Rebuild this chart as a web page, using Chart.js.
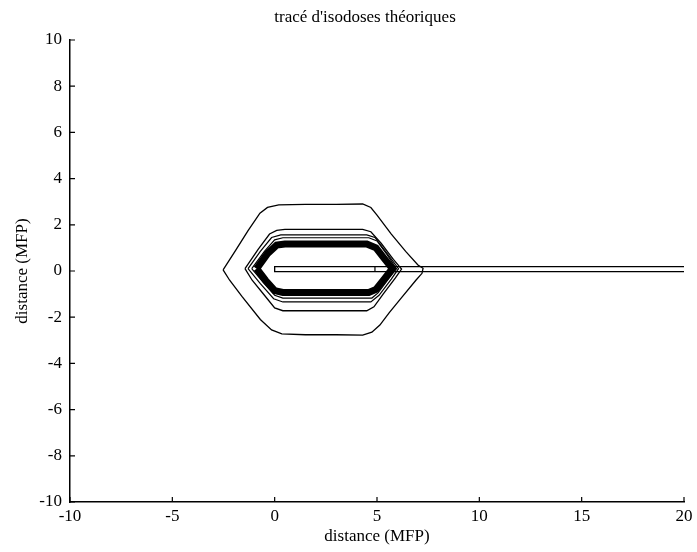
<!DOCTYPE html>
<html><head><meta charset="utf-8">
<script src="https://cdn.jsdelivr.net/npm/chart.js@4/dist/chart.umd.min.js"></script>
<style>html,body{margin:0;padding:0;background:#fff}#wrap{width:697px;height:552px}</style>
</head><body><div id="wrap"><canvas id="c" width="697" height="552"></canvas></div>
<script>
const titleText = "tracé d'isodoses théoriques";
const xTitle = "distance (MFP)";
const yTitle = "distance (MFP)";
const xTicks = [-10, -5, 0, 5, 10, 15, 20];
const yTicks = [-10, -8, -6, -4, -2, 0, 2, 4, 6, 8, 10];

// isodose contours (x, y)
const contourOuter = [[-2.52,0.05],[-1.9,0.9],[-1.3,1.75],[-0.72,2.5],[-0.35,2.75],[0.2,2.86],[1.5,2.88],[3.0,2.88],[4.3,2.9],[4.7,2.75],[5.0,2.42],[5.7,1.6],[6.4,0.85],[7.0,0.26],[7.25,0.12],[7.2,-0.1],[6.9,-0.4],[6.2,-1.15],[5.6,-1.8],[5.14,-2.34],[4.75,-2.65],[4.3,-2.78],[3.0,-2.76],[1.5,-2.76],[0.35,-2.72],[-0.15,-2.55],[-0.7,-2.1],[-1.6,-1.1],[-2.2,-0.4],[-2.52,0.05]];
const contour2 = [[-1.45,0.1],[-0.8,0.95],[-0.25,1.6],[0.1,1.76],[0.5,1.8],[2.5,1.8],[4.3,1.8],[4.7,1.7],[5.2,1.2],[5.8,0.5],[6.2,0.08],[5.9,-0.3],[5.3,-1.0],[4.85,-1.55],[4.5,-1.72],[2.5,-1.72],[0.4,-1.72],[0.0,-1.6],[-0.5,-1.05],[-1.1,-0.4],[-1.45,0.1]];
const contour3 = [[-1.3,0.1],[-0.7,0.85],[-0.15,1.45],[0.3,1.56],[2.5,1.56],[4.5,1.56],[4.9,1.45],[5.5,0.75],[6.05,0.1],[5.7,-0.35],[5.1,-1.05],[4.7,-1.34],[2.5,-1.34],[0.4,-1.34],[-0.05,-1.2],[-0.7,-0.55],[-1.3,0.1]];
const contour4 = [[-1.12,0.1],[-0.5,0.85],[0.0,1.35],[0.4,1.44],[2.5,1.44],[4.6,1.44],[5.0,1.3],[5.5,0.7],[5.95,0.1],[5.6,-0.3],[5.05,-0.95],[4.75,-1.17],[2.5,-1.17],[0.4,-1.17],[0.0,-1.05],[-0.55,-0.5],[-1.12,0.1]];
const contourBand = [[-0.88,0.1],[-0.35,0.75],[0.1,1.12],[0.5,1.17],[2.5,1.17],[4.5,1.17],[4.95,1.0],[5.35,0.55],[5.75,0.1],[5.4,-0.3],[4.95,-0.8],[4.6,-0.93],[2.5,-0.93],[0.4,-0.93],[0.0,-0.85],[-0.45,-0.4],[-0.88,0.1]];
const rayOutline = [[20,0.19],[0,0.19],[0,-0.03],[20,-0.03]];
const rayMark = [[4.9,0.19],[4.9,-0.03]];

const toPts = a => a.map(p => ({x: p[0], y: p[1]}));
const mk = (arr, w) => ({data: toPts(arr), showLine: true, borderColor: '#000', borderWidth: w, pointRadius: 0, fill: false, tension: 0});

const serif = "'Liberation Serif', 'DejaVu Serif', serif";

const inwardTicks = {
  id: 'inwardTicks',
  afterDatasetsDraw(chart) {
    const ctx = chart.ctx, xs = chart.scales.x, ys = chart.scales.y, a = chart.chartArea;
    ctx.save();
    ctx.strokeStyle = '#000'; ctx.lineWidth = 1.2;
    ctx.beginPath();
    xTicks.forEach(v => { const p = xs.getPixelForValue(v); ctx.moveTo(p, a.bottom); ctx.lineTo(p, a.bottom - 5); });
    yTicks.forEach(v => { const p = ys.getPixelForValue(v); ctx.moveTo(a.left, p); ctx.lineTo(a.left + 5, p); });
    ctx.stroke();
    ctx.fillStyle = '#000';
    ctx.font = "17px " + serif;
    ctx.textAlign = 'center'; ctx.textBaseline = 'middle';
    ctx.fillText(titleText, (a.left + a.right) / 2 - 12, 18);
    ctx.restore();
  }
};

new Chart(document.getElementById('c'), {
  type: 'scatter',
  data: { datasets: [
    mk(contourOuter, 1.3), mk(contour2, 1.3), mk(contour3, 1.2), mk(contour4, 1.2),
    mk(contourBand, 7), mk(rayOutline, 1.3), mk(rayMark, 1.2)
  ]},
  options: {
    responsive: false, animation: false,
    layout: { padding: { top: 40, right: 13, left: 0, bottom: 0 } },
    plugins: { legend: { display: false }, tooltip: { enabled: false }, title: { display: false } },
    scales: {
      x: {
        type: 'linear', min: -10, max: 20,
        afterBuildTicks: s => { s.ticks = xTicks.map(v => ({value: v})); },
        afterFit: s => { s.height = 50; },
        grid: { display: false, drawTicks: false },
        border: { display: true, color: '#000', width: 1.5 },
        ticks: { color: '#000', font: { family: serif, size: 17 }, padding: 4, maxRotation: 0 },
        title: { display: true, text: xTitle, color: '#000', font: { family: serif, size: 17 }, padding: { top: 0, bottom: 5 } }
      },
      y: {
        type: 'linear', min: -10, max: 10,
        afterBuildTicks: s => { s.ticks = yTicks.map(v => ({value: v})); },
        afterFit: s => { s.width = 70; },
        grid: { display: false, drawTicks: false },
        border: { display: true, color: '#000', width: 1.5 },
        ticks: { color: '#000', font: { family: serif, size: 17 }, padding: 8 },
        title: { display: true, text: yTitle, color: '#000', font: { family: serif, size: 17 }, padding: { top: 12, bottom: 0 } }
      }
    }
  },
  plugins: [inwardTicks]
});
</script></body></html>
